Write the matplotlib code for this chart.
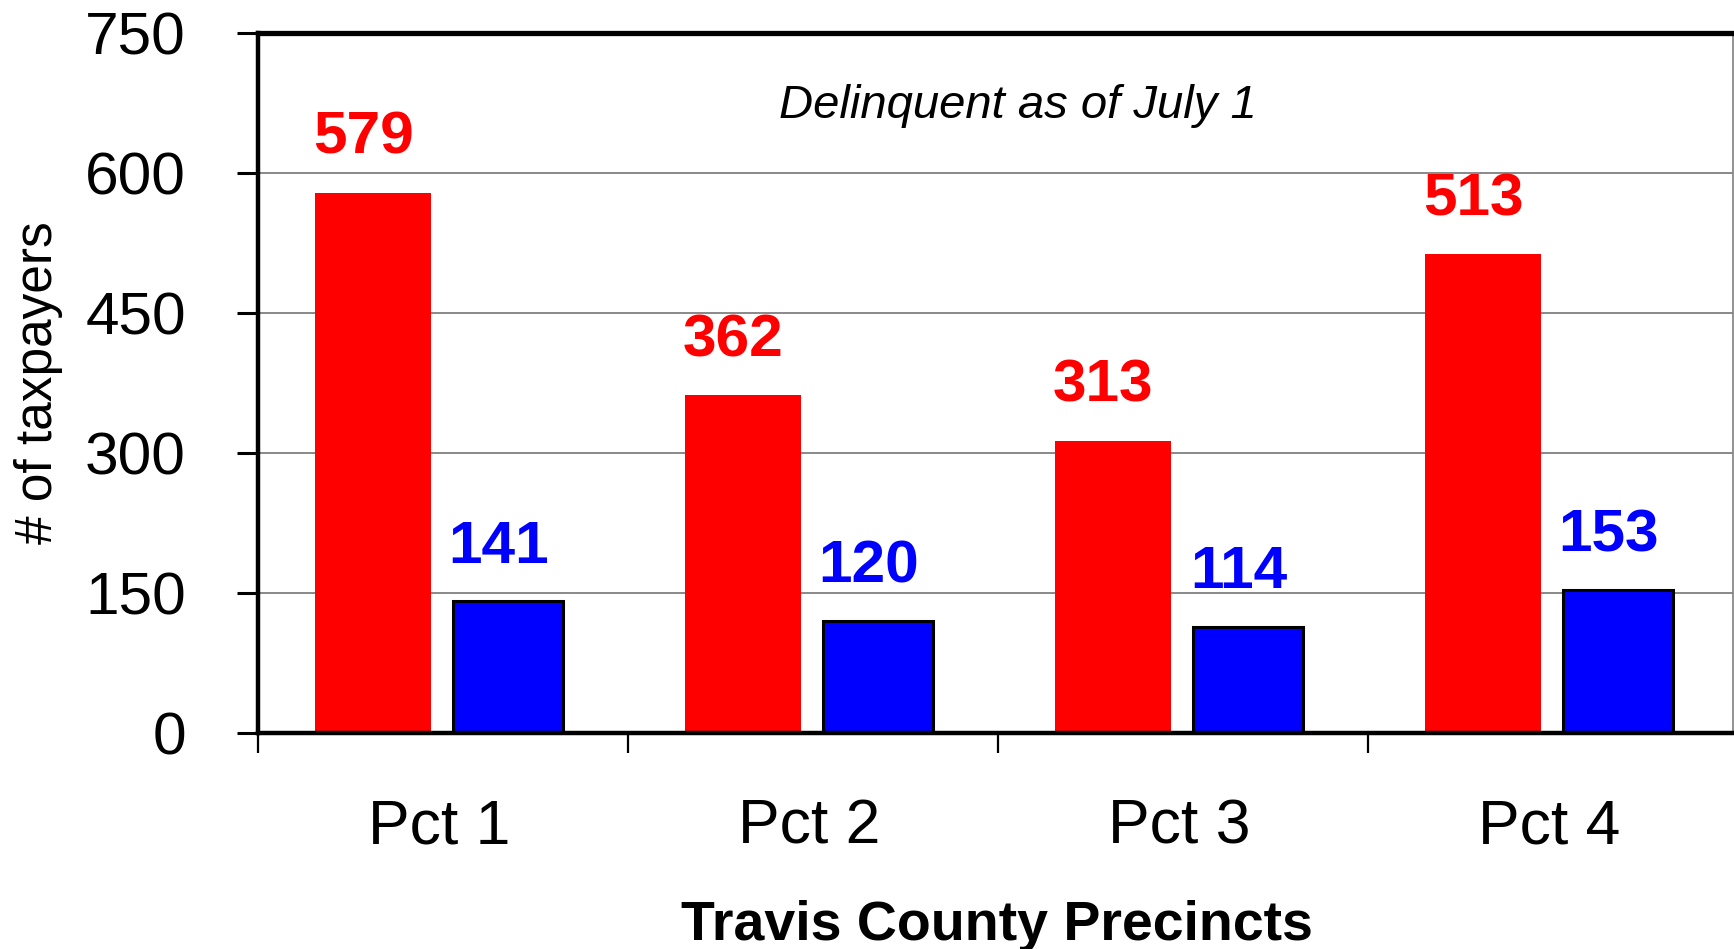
import matplotlib
matplotlib.use("Agg")
import matplotlib.pyplot as plt
import matplotlib.transforms as mtransforms

plt.rcParams['font.family'] = ['Liberation Sans', 'DejaVu Sans']

categories = ["Pct 1", "Pct 2", "Pct 3", "Pct 4"]
red_values = [579, 362, 313, 513]
blue_values = [141, 120, 114, 153]
yticks = [0, 150, 300, 450, 600, 750]

W, H, DPI = 1734, 949, 100
fig = plt.figure(figsize=(W / DPI, H / DPI), dpi=DPI)
ax = fig.add_axes([258 / W, 1 - 733 / H, (1733 - 258) / W, (733 - 33) / H])

n = len(categories)
red_x = [i + 0.311 for i in range(n)]
blue_x = [i + 0.676 for i in range(n)]

ax.set_axisbelow(True)
ax.bar(red_x, red_values, width=0.312, color="#FF0000", edgecolor="none", zorder=2)
ax.bar(blue_x, blue_values, width=0.298, color="#0000FF", edgecolor="black", linewidth=2.2, zorder=2)

ax.set_xlim(0, 1475 / 370)
ax.set_ylim(0, 750)

# gridlines
ax.set_yticks(yticks)
ax.yaxis.grid(True, color="#808080", linewidth=1.3)
ax.set_yticklabels([str(v) for v in yticks], fontsize=43.5)
ax.tick_params(axis='y', length=15, width=2.2, pad=37, color='black')

ax.set_xticks(list(range(n)))
ax.set_xticklabels([])
ax.tick_params(axis='x', length=14.5, width=1.6, color='black')

for s in ['left', 'bottom']:
    ax.spines[s].set_linewidth(3.2)
    ax.spines[s].set_color('black')
ax.spines['top'].set_linewidth(3.8)
ax.spines['top'].set_color('black')
ax.spines['right'].set_linewidth(1.2)
ax.spines['right'].set_color('#808080')

# category labels
trans = mtransforms.blended_transform_factory(ax.transData, ax.transAxes)
for i, c in enumerate(categories):
    ax.text(i + 0.49, (733 - 843) / 700, c, transform=trans, ha='center', va='baseline',
            fontsize=45)

# value labels
for x, v in zip(red_x, red_values):
    ax.annotate(str(v), (x, v), xytext=(-7, 28), textcoords='offset points',
                ha='center', va='baseline', fontsize=43.5, fontweight='bold', color='#FF0000')
for x, v in zip(blue_x, blue_values):
    ax.annotate(str(v), (x, v), xytext=(-7, 28), textcoords='offset points',
                ha='center', va='baseline', fontsize=43.5, fontweight='bold', color='#0000FF')

ax.text(0.515, (733 - 118) / 700, "Delinquent as of July 1", transform=ax.transAxes,
        ha='center', va='baseline', fontsize=34, fontstyle='italic')

fig.text(38.7 / W, 1 - 383 / H, "# of taxpayers", rotation=90, ha='center', va='center',
         fontsize=37)
fig.text(997 / W, 1 - 940 / H, "Travis County Precincts", ha='center', va='baseline',
         fontsize=40, fontweight='bold')

fig.savefig("out.png", dpi=DPI)
